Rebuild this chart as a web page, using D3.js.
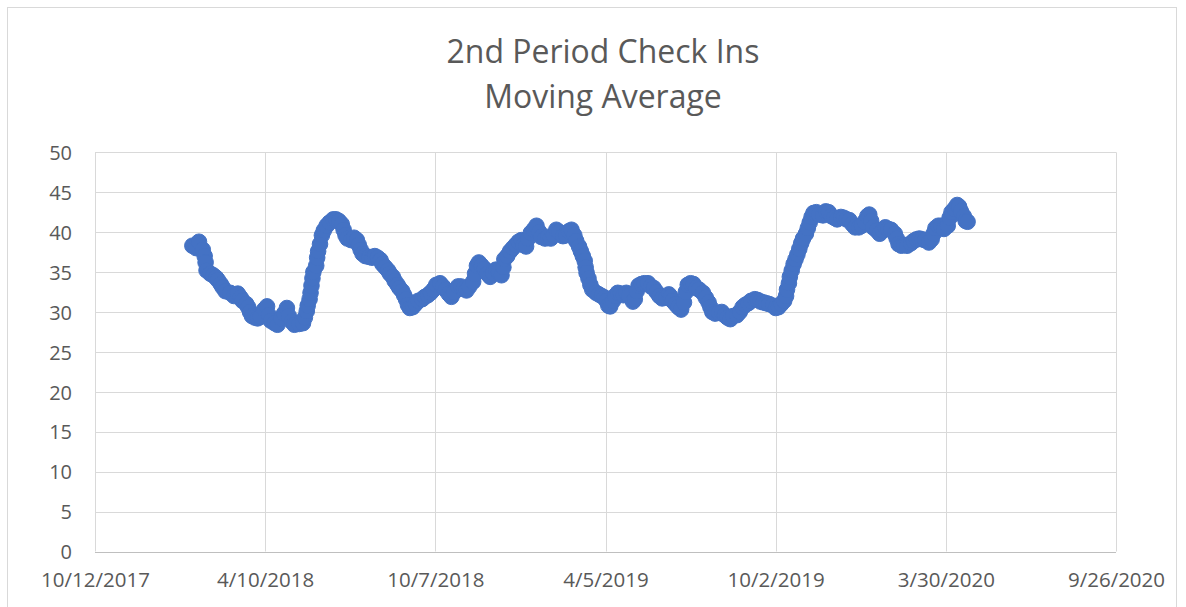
<!DOCTYPE html>
<html>
<head>
<meta charset="utf-8">
<script src="https://cdn.jsdelivr.net/npm/d3@7"></script>
<style>
  body { margin: 0; background: #fff; }
  text { font-family: "Open Sans", "Noto Sans", sans-serif; fill: #595959; }
</style>
</head>
<body>
<svg id="chart" width="1186" height="607"></svg>
<script>
const titleLines = ['2nd Period Check Ins', 'Moving Average'];

const yTicks = [0, 5, 10, 15, 20, 25, 30, 35, 40, 45, 50];
const xTicks = ['2017-10-12', '2018-04-10', '2018-10-07', '2019-04-05', '2019-10-02', '2020-03-30', '2020-09-26'];

// moving average
const dates = [
  '2018-01-23','2018-01-27','2018-01-30','2018-02-03','2018-02-05','2018-02-06','2018-02-07','2018-02-11','2018-02-14','2018-02-17',
  '2018-02-19','2018-02-22','2018-02-24','2018-02-27','2018-03-04','2018-03-08','2018-03-12','2018-03-15','2018-03-17','2018-03-21',
  '2018-03-23','2018-03-25','2018-03-27','2018-03-30','2018-04-02','2018-04-05','2018-04-09','2018-04-12','2018-04-14','2018-04-16',
  '2018-04-20','2018-04-23','2018-04-27','2018-04-30','2018-05-03','2018-05-05','2018-05-08','2018-05-11','2018-05-16','2018-05-20',
  '2018-05-22','2018-05-24','2018-05-25','2018-05-27','2018-05-28','2018-05-29','2018-05-30','2018-05-31','2018-06-03','2018-06-04',
  '2018-06-05','2018-06-07','2018-06-09','2018-06-11','2018-06-14','2018-06-17','2018-06-21','2018-06-24','2018-06-27','2018-06-30',
  '2018-07-02','2018-07-04','2018-07-06','2018-07-10','2018-07-13','2018-07-16','2018-07-18','2018-07-20','2018-07-22','2018-07-25',
  '2018-07-29','2018-08-01','2018-08-04','2018-08-07','2018-08-10','2018-08-12','2018-08-15','2018-08-18','2018-08-20','2018-08-23',
  '2018-08-25','2018-08-28','2018-08-30','2018-09-02','2018-09-04','2018-09-06','2018-09-08','2018-09-10','2018-09-13','2018-09-16',
  '2018-09-19','2018-09-23','2018-09-26','2018-09-29','2018-10-02','2018-10-05','2018-10-08','2018-10-12','2018-10-15','2018-10-18',
  '2018-10-21','2018-10-24','2018-10-27','2018-10-31','2018-11-03','2018-11-06','2018-11-09','2018-11-12','2018-11-16','2018-11-18',
  '2018-11-20','2018-11-22','2018-11-25','2018-11-28','2018-12-01','2018-12-04','2018-12-07','2018-12-10','2018-12-13','2018-12-16',
  '2018-12-18','2018-12-19','2018-12-22','2018-12-25','2018-12-28','2018-12-31','2019-01-03','2019-01-06','2019-01-08','2019-01-11',
  '2019-01-13','2019-01-16','2019-01-19','2019-01-22','2019-01-25','2019-01-27','2019-01-31','2019-02-03','2019-02-06','2019-02-09',
  '2019-02-12','2019-02-15','2019-02-19','2019-02-22','2019-02-25','2019-02-28','2019-03-03','2019-03-05','2019-03-08','2019-03-10',
  '2019-03-12','2019-03-14','2019-03-15','2019-03-16','2019-03-18','2019-03-20','2019-03-22','2019-03-26','2019-03-29','2019-04-01',
  '2019-04-04','2019-04-06','2019-04-08','2019-04-10','2019-04-13','2019-04-15','2019-04-18','2019-04-21','2019-04-24','2019-04-27',
  '2019-04-30','2019-05-04','2019-05-06','2019-05-08','2019-05-10','2019-05-13','2019-05-16','2019-05-20','2019-05-23','2019-05-26',
  '2019-05-29','2019-06-01','2019-06-04','2019-06-08','2019-06-11','2019-06-13','2019-06-15','2019-06-18','2019-06-21','2019-06-24',
  '2019-06-27','2019-06-29','2019-07-01','2019-07-04','2019-07-07','2019-07-10','2019-07-13','2019-07-17','2019-07-20','2019-07-23',
  '2019-07-25','2019-07-27','2019-07-30','2019-08-03','2019-08-06','2019-08-09','2019-08-12','2019-08-15','2019-08-18','2019-08-22',
  '2019-08-25','2019-08-28','2019-08-31','2019-09-03','2019-09-06','2019-09-10','2019-09-13','2019-09-16','2019-09-19','2019-09-22',
  '2019-09-25','2019-09-29','2019-10-02','2019-10-05','2019-10-08','2019-10-11','2019-10-13','2019-10-14','2019-10-16','2019-10-17',
  '2019-10-19','2019-10-21','2019-10-23','2019-10-25','2019-10-27','2019-10-29','2019-10-31','2019-11-03','2019-11-05','2019-11-07',
  '2019-11-09','2019-11-11','2019-11-14','2019-11-17','2019-11-21','2019-11-24','2019-11-27','2019-11-30','2019-12-03','2019-12-06',
  '2019-12-10','2019-12-13','2019-12-16','2019-12-19','2019-12-22','2019-12-25','2019-12-29','2020-01-01','2020-01-04','2020-01-07',
  '2020-01-09','2020-01-11','2020-01-13','2020-01-17','2020-01-20','2020-01-23','2020-01-26','2020-01-29','2020-02-01','2020-02-05',
  '2020-02-07','2020-02-09','2020-02-12','2020-02-15','2020-02-18','2020-02-22','2020-02-25','2020-02-28','2020-03-02','2020-03-05',
  '2020-03-08','2020-03-12','2020-03-15','2020-03-17','2020-03-19','2020-03-22','2020-03-25','2020-03-28','2020-04-01','2020-04-03',
  '2020-04-05','2020-04-08','2020-04-11','2020-04-13','2020-04-15','2020-04-18','2020-04-20','2020-04-22'
];

const checkIns = [
  38.3,38.0,38.8,37.8,37.0,36.2,35.2,34.8,34.6,34.3,
  34.0,33.5,33.1,32.6,32.4,32.0,32.3,31.8,31.4,31.0,
  30.6,30.0,29.5,29.3,29.2,29.4,30.3,30.7,29.6,28.9,
  28.6,28.4,29.2,29.8,30.5,29.5,28.8,28.4,28.5,28.6,
  29.3,30.1,30.8,31.6,32.4,33.3,34.2,35.0,35.8,36.8,
  37.6,38.5,39.6,40.2,40.8,41.2,41.6,41.6,41.4,41.0,
  40.3,39.6,39.2,39.0,39.3,39.0,38.4,37.8,37.3,37.0,
  36.9,36.8,37.0,36.8,36.5,36.0,35.6,35.2,34.8,34.4,
  33.9,33.4,33.0,32.6,32.1,31.6,30.9,30.5,30.6,31.0,
  31.4,31.6,31.9,32.1,32.4,32.8,33.4,33.6,33.2,32.8,
  32.3,31.9,32.5,33.2,33.2,32.9,32.7,33.2,33.8,34.8,
  35.8,36.2,35.8,35.4,34.8,34.4,34.9,35.3,35.0,34.6,
  35.6,36.6,37.0,37.6,38.0,38.4,38.8,39.0,38.4,38.2,
  39.2,39.9,40.3,40.8,40.0,39.4,39.2,39.4,39.2,39.6,
  40.3,40.0,39.5,39.6,40.1,40.3,39.6,38.9,38.2,37.6,
  37.0,36.4,35.6,34.9,34.2,33.4,32.8,32.4,32.2,32.0,
  31.8,31.4,30.8,30.7,31.4,32.0,32.4,32.3,32.1,32.4,
  32.0,31.3,31.6,32.6,33.3,33.5,33.6,33.6,33.2,33.0,
  32.5,32.0,31.7,31.8,32.2,31.9,31.4,31.0,30.6,30.3,
  31.2,32.5,33.4,33.6,33.5,33.0,32.8,32.4,31.8,31.2,
  30.6,30.0,29.8,29.9,30.0,29.6,29.3,29.1,29.5,29.6,
  30.0,30.6,30.9,31.1,31.4,31.6,31.5,31.3,31.2,31.1,
  31.0,30.8,30.5,30.6,31.0,31.4,32.0,32.8,33.6,34.4,
  35.2,36.0,36.6,37.2,37.9,38.6,39.2,39.8,40.5,41.2,
  41.9,42.4,42.5,42.2,42.1,42.6,42.5,42.0,41.8,41.6,
  41.9,41.8,41.6,41.5,41.0,40.6,40.6,40.8,41.3,42.0,
  42.2,41.4,40.6,40.2,39.8,40.2,40.6,40.4,40.3,39.8,
  39.2,38.5,38.3,38.4,38.3,38.6,38.9,39.1,39.2,39.1,
  39.0,38.7,39.1,39.8,40.5,40.8,40.8,40.4,40.8,41.8,
  42.5,42.9,43.4,43.2,42.6,42.0,41.4,41.3
];

const parse = d3.utcParse('%Y-%m-%d');
const fmt = d3.utcFormat('%-m/%-d/%Y');
const points = dates.map((d, i) => ({ date: parse(d), value: checkIns[i] }));

const svg = d3.select('#chart');
const plot = { left: 95, right: 1116, top: 152.3, bottom: 551.5 };

// chart border
svg.append('rect')
  .attr('x', 7.5).attr('y', 7.5)
  .attr('width', 1169).attr('height', 620)
  .attr('fill', 'none')
  .attr('stroke', '#d9d9d9');

const x = d3.scaleUtc()
  .domain([parse(xTicks[0]), parse(xTicks[xTicks.length - 1])])
  .range([plot.left, plot.right]);

const y = d3.scaleLinear()
  .domain([0, 50])
  .range([plot.bottom, plot.top]);

// gridlines
svg.append('g')
  .selectAll('line')
  .data(yTicks)
  .enter()
  .append('line')
  .attr('x1', plot.left).attr('x2', plot.right)
  .attr('y1', d => Math.round(y(d)) + 0.5)
  .attr('y2', d => Math.round(y(d)) + 0.5)
  .attr('stroke', '#d9d9d9')
  .attr('stroke-width', 1);

svg.append('g')
  .selectAll('line')
  .data(xTicks)
  .enter()
  .append('line')
  .attr('x1', d => Math.round(x(parse(d))) + 0.5)
  .attr('x2', d => Math.round(x(parse(d))) + 0.5)
  .attr('y1', plot.top).attr('y2', plot.bottom)
  .attr('stroke', '#d9d9d9')
  .attr('stroke-width', 1);

// axes
const yAxis = svg.append('g')
  .attr('transform', `translate(${plot.left - 23},0)`)
  .call(d3.axisLeft(y).tickValues(yTicks).tickSize(0).tickPadding(0));
yAxis.select('.domain').remove();
yAxis.selectAll('text')
  .attr('dy', '0.36em')
  .style('font-size', '20px')
  .style('font-family', '"Open Sans", sans-serif')
  .style('fill', '#595959');

const xAxis = svg.append('g')
  .attr('transform', `translate(0,${plot.bottom})`)
  .call(d3.axisBottom(x).tickValues(xTicks.map(parse)).tickFormat(fmt).tickSize(0).tickPadding(21));
xAxis.select('.domain').remove();
xAxis.selectAll('text')
  .style('font-size', '20.5px')
  .style('font-family', '"Open Sans", sans-serif')
  .style('fill', '#595959');

svg.append('line')
  .attr('x1', plot.left).attr('x2', plot.right)
  .attr('y1', Math.round(plot.bottom) + 0.5).attr('y2', Math.round(plot.bottom) + 0.5)
  .attr('stroke', '#bfbfbf');

// markers
svg.append('g')
  .selectAll('circle')
  .data(points)
  .enter()
  .append('circle')
  .attr('cx', d => x(d.date))
  .attr('cy', d => y(d.value))
  .attr('r', 7.8)
  .attr('fill', '#4472c4')
  .attr('stroke', '#4472c4')
  .attr('stroke-width', 1);

// title
const title = svg.append('g');
const t1 = title.append('text')
  .attr('x', 603).attr('y', 63)
  .attr('text-anchor', 'middle')
  .style('font-size', '28px')
  .text(titleLines[0]);
const w = t1.node().getComputedTextLength();
const size = 28 * 313 / w;
t1.style('font-size', size + 'px');
title.append('text')
  .attr('x', 603).attr('y', 108)
  .attr('text-anchor', 'middle')
  .style('font-size', size + 'px')
  .text(titleLines[1]);
</script>
</body>
</html>
